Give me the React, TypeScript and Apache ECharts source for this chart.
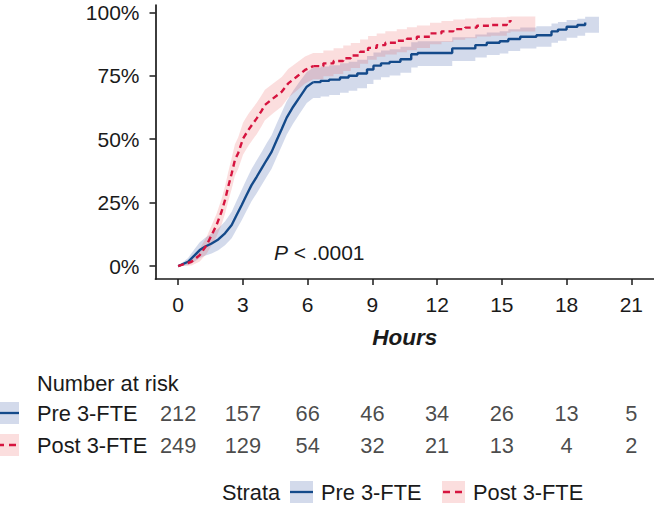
import React, { useEffect, useRef } from "react";
import * as echarts from "echarts";

// ---- Data ----
const strata = ["Pre 3-FTE", "Post 3-FTE"];

const preTimes = [0, 0.46, 0.77, 1.0, 1.24, 1.55, 1.86, 2.17, 2.48, 2.71, 2.94, 3.17, 3.4, 3.64, 3.87, 4.1, 4.33, 4.56, 4.8, 5.03, 5.33, 5.64, 5.96, 6.26, 6.6, 7.0, 7.5, 7.9, 8.3, 8.75, 9.05, 9.4, 9.8, 10.3, 10.8, 11.1, 12.7, 13.77, 14.3, 14.9, 15.3, 15.85, 16.6, 17.3, 17.6, 18.0, 18.5, 18.86];
const preValues = [0, 1.7, 4.3, 6.3, 7.6, 8.9, 10.5, 12.9, 16.2, 20.1, 24, 28, 31.9, 35.2, 38.5, 41.8, 45, 49.5, 54, 58.5, 62.8, 66.7, 70.7, 72.5, 73, 73.5, 74.3, 75, 75.9, 77.5, 79, 79.9, 80.5, 81.5, 83.5, 84, 85.8, 87.1, 88, 88.6, 89.5, 90.4, 91, 92.5, 93.2, 94.3, 95, 96];
const preLower = [0, 0.3, 1.8, 3.2, 4.1, 5.0, 6.2, 8.2, 11, 14.5, 18, 21.8, 25.5, 28.7, 32, 35.2, 38.4, 42.8, 47.3, 51.8, 56.2, 60.2, 64.3, 66.2, 66.8, 67.4, 68.3, 69.1, 70.1, 71.8, 73.4, 74.4, 75.1, 76.2, 78.3, 78.9, 80.8, 82.2, 83.2, 83.8, 84.8, 85.8, 86.4, 88, 88.8, 90, 90.8, 92];
const preUpper = [0, 3.2, 6.8, 9.4, 11.1, 12.8, 14.8, 17.6, 21.4, 25.7, 30, 34.2, 38.3, 41.7, 45, 48.4, 51.6, 56.1, 60.6, 65, 69.1, 72.8, 76.5, 78.2, 78.7, 79.2, 79.9, 80.5, 81.3, 82.8, 84.2, 85, 85.5, 86.4, 88.2, 88.6, 90.2, 91.3, 92.1, 92.6, 93.3, 94, 94.5, 95.6, 96.2, 97, 97.5, 98.3];
const preBandEnd = 19.5;

const postTimes = [0, 0.62, 1.0, 1.32, 1.55, 1.78, 2.01, 2.17, 2.32, 2.48, 2.63, 2.78, 3.01, 3.25, 3.45, 3.64, 3.85, 4.02, 4.4, 4.8, 5.1, 5.49, 5.88, 6.26, 6.73, 7.2, 7.65, 8.0, 8.43, 8.8, 9.2, 9.6, 10.13, 10.6, 11.06, 11.67, 12.2, 12.75, 13.3, 13.84, 14.5, 15.23, 15.4];
const postValues = [0, 1.7, 4.3, 8.3, 12.2, 16.2, 21.4, 26, 31.3, 36.5, 41.8, 44.5, 50.3, 53.6, 56, 58.2, 61, 63.5, 66.1, 68.7, 72, 74.6, 77.3, 78.8, 79.9, 80.8, 81.9, 83, 84.5, 86, 87.1, 88, 88.8, 89.6, 90.4, 91.7, 92.5, 93.4, 94, 94.7, 95, 96.4, 97];
const postLower = [0, 0.2, 1.8, 4.9, 8.2, 11.7, 16.3, 20.5, 25.5, 30.4, 35.6, 38.3, 44, 47.3, 49.8, 52, 54.9, 57.5, 60.2, 62.9, 66.3, 69.1, 72, 73.6, 74.8, 75.7, 76.9, 78.1, 79.7, 81.3, 82.5, 83.4, 84.3, 85.1, 86, 87.4, 88.3, 89.2, 89.8, 90.5, 90.8, 92, 92.5];
const postUpper = [0, 3.2, 6.8, 11.6, 16.1, 20.6, 26.4, 31.4, 37.1, 42.6, 48, 50.7, 56.6, 59.9, 62.2, 64.4, 67.1, 69.5, 72, 74.5, 77.7, 80.1, 82.6, 84, 85, 85.9, 86.9, 87.9, 89.3, 90.7, 91.7, 92.6, 93.3, 94.1, 94.8, 95.9, 96.6, 97.2, 97.6, 97.9, 98.1, 98.3, 98.4];
const postBandEnd = 16.55;

const xTicks = [0, 3, 6, 9, 12, 15, 18, 21];
const yTicks = [0, 25, 50, 75, 100];
const riskTimes = [0, 3, 6, 9, 12, 15, 18, 21];
const riskPre = [212, 157, 66, 46, 34, 26, 13, 5];
const riskPost = [249, 129, 54, 32, 21, 13, 4, 2];

// ---- Styles ----
const BLUE = "#144a8a";
const RED = "#d6143f";
const BLUE_FILL = "rgba(46,79,160,0.21)";
const RED_FILL = "rgba(232,70,70,0.18)";
const TXT = "#1a1a1a";
const FONT = "'Liberation Sans', Arial, Helvetica, sans-serif";
const FS_AXIS = 21;
const FS_TABLE = 21.8;
const STEP_FROM = 6.2; // dense early section drawn as a polyline, later section as steps

function bandSeries(times: number[], lower: number[], upper: number[], endT: number, fill: string) {
  return {
    type: "custom",
    xAxisIndex: 0,
    yAxisIndex: 0,
    silent: true,
    z: 1,
    data: [[times[0], lower[0]]],
    renderItem: (_params: any, api: any) => {
      const top: number[][] = [];
      const bot: number[][] = [];
      for (let i = 0; i < times.length; i++) {
        const tNext = i < times.length - 1 ? times[i + 1] : endT;
        if (times[i] < STEP_FROM && i < times.length - 1) {
          top.push(api.coord([times[i], upper[i]]));
          bot.push(api.coord([times[i], lower[i]]));
        } else {
          top.push(api.coord([times[i], upper[i]]), api.coord([tNext, upper[i]]));
          bot.push(api.coord([times[i], lower[i]]), api.coord([tNext, lower[i]]));
        }
      }
      return {
        type: "polygon",
        shape: { points: top.concat(bot.reverse()) },
        style: { fill, stroke: "none" },
      };
    },
  };
}

function curveSeries(name: string, times: number[], values: number[], lineStyle: any, z: number) {
  const pts = times.map((t, i) => [t, values[i]]);
  const k = times.findIndex((t) => t >= STEP_FROM);
  const base = { name, type: "line", xAxisIndex: 0, yAxisIndex: 0, symbol: "none", z, lineStyle };
  return [
    { ...base, data: pts.slice(0, k + 1) },
    { ...base, step: "end", data: pts.slice(k) },
  ];
}

function keyGraphic(x: number, cy: number, fill: string, stroke: string, dashed: boolean) {
  return {
    type: "group",
    children: [
      { type: "rect", shape: { x, y: cy - 11, width: 23, height: 22 }, style: { fill } },
      {
        type: "line",
        shape: { x1: dashed ? x + 1 : x, y1: cy, x2: x + 23, y2: cy },
        style: { stroke, lineWidth: 2.3, lineDash: dashed ? [7, 5] : null },
      },
    ],
  };
}

function textGraphic(text: string, x: number, y: number, extra: any = {}) {
  return {
    type: "text",
    x,
    y,
    style: { text, fill: TXT, fontSize: FS_TABLE, fontFamily: FONT, verticalAlign: "middle", ...extra },
  };
}

export default function App() {
  const ref = useRef<HTMLDivElement>(null);
  useEffect(() => {
    if (!ref.current) return;
    const chart = echarts.init(ref.current, undefined, { renderer: "svg" });
    const option: any = {
      animation: false,
      backgroundColor: "#ffffff",
      textStyle: { fontFamily: FONT },
      grid: [
        { left: 155.5, right: 0, top: 5, bottom: 227, containLabel: false },
        { left: 155.5, right: 0, top: 397, height: 64, containLabel: false },
      ],
      xAxis: [
        {
          type: "value",
          gridIndex: 0,
          min: -1.05,
          max: 22.05,
          name: "Hours",
          nameLocation: "middle",
          nameGap: 47,
          nameTextStyle: { fontSize: 22.5, fontWeight: "bold", fontStyle: "italic", color: TXT, fontFamily: FONT },
          axisLine: { show: true, onZero: false, lineStyle: { color: TXT, width: 1.7 } },
          axisTick: { show: true, length: 6, customValues: xTicks, lineStyle: { color: TXT, width: 1.5 } },
          axisLabel: { customValues: xTicks, fontSize: FS_AXIS, color: TXT, margin: 15, fontFamily: FONT },
          splitLine: { show: false },
        },
        {
          type: "value",
          gridIndex: 1,
          min: -1.05,
          max: 22.05,
          show: false,
        },
      ],
      yAxis: [
        {
          type: "value",
          gridIndex: 0,
          min: -5.1,
          max: 102.9,
          axisLine: { show: true, onZero: false, lineStyle: { color: TXT, width: 1.7 } },
          axisTick: { show: true, length: 6, customValues: yTicks, lineStyle: { color: TXT, width: 1.5 } },
          axisLabel: {
            customValues: yTicks,
            formatter: (v: number) => `${v}%`,
            fontSize: FS_AXIS,
            color: TXT,
            margin: 16,
            fontFamily: FONT,
          },
          splitLine: { show: false },
        },
        {
          type: "category",
          gridIndex: 1,
          data: strata,
          inverse: true,
          axisLine: { show: false },
          axisTick: { show: false },
          axisLabel: { align: "left", margin: 118.5, fontSize: FS_TABLE, color: TXT, fontFamily: FONT },
          splitLine: { show: false },
        },
      ],
      series: [
        bandSeries(preTimes, preLower, preUpper, preBandEnd, BLUE_FILL),
        bandSeries(postTimes, postLower, postUpper, postBandEnd, RED_FILL),
        ...curveSeries(strata[0], preTimes, preValues, { color: BLUE, width: 2.4 }, 3),
        ...curveSeries(strata[1], postTimes, postValues, { color: RED, width: 2.4, type: [6, 4] }, 4),
        {
          name: "risk",
          type: "scatter",
          xAxisIndex: 1,
          yAxisIndex: 1,
          symbolSize: 1,
          itemStyle: { color: "rgba(0,0,0,0)" },
          silent: true,
          data: [
            ...riskTimes.map((t, i) => [t, strata[0], riskPre[i]]),
            ...riskTimes.map((t, i) => [t, strata[1], riskPost[i]]),
          ],
          label: {
            show: true,
            position: "inside",
            formatter: (p: any) => String(p.value[2]),
            fontSize: FS_TABLE,
            color: TXT,
            fontFamily: FONT,
          },
        },
      ],
      graphic: [
        textGraphic("{i|P} < .0001", 274, 252, {
          fontSize: FS_AXIS,
          rich: { i: { fontStyle: "italic", fontSize: FS_AXIS, fontFamily: FONT, fill: TXT } },
        }),
        textGraphic("Number at risk", 37, 383),
        keyGraphic(-4, 413, BLUE_FILL, BLUE, false),
        keyGraphic(-4, 445, RED_FILL, RED, true),
        textGraphic("Strata", 222, 492),
        keyGraphic(290, 492, BLUE_FILL, BLUE, false),
        textGraphic(strata[0], 321, 492),
        keyGraphic(442, 492, RED_FILL, RED, true),
        textGraphic(strata[1], 473, 492),
      ],
    };
    chart.setOption(option);
    return () => chart.dispose();
  }, []);
  return (
    <div
      ref={ref}
      style={{ position: "fixed", left: 0, top: 0, width: 654, height: 506, background: "#fff" }}
    />
  );
}
